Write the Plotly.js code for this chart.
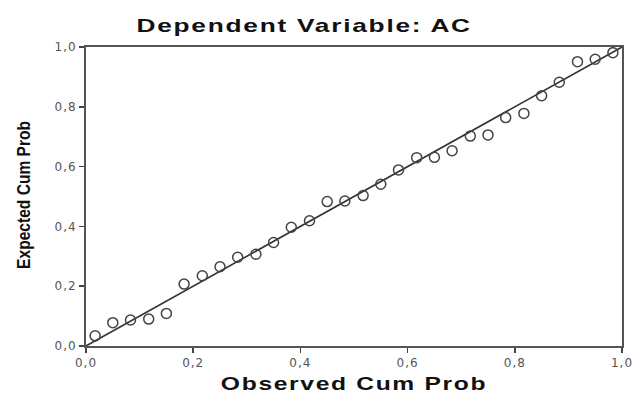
<!DOCTYPE html>
<html>
<head>
<meta charset="utf-8">
<script src="https://cdn.plot.ly/plotly-3.0.1.min.js"></script>
<style>
html,body{margin:0;padding:0;background:#fff;}
#chart{width:635px;height:394px;}
#chart .gtitle, #chart .xtitle, #chart .ytitle{transform-box:fill-box;transform-origin:center;}
#chart .gtitle{transform:scaleX(1.46);letter-spacing:1.2px;}
#chart .xtitle{transform:scaleX(1.37);letter-spacing:1.2px;}
#chart .ytitle{transform:translate(-6px,5px) rotate(-90deg) scaleX(0.82);}
#chart .xtick text, #chart .ytick text{letter-spacing:1px;}
</style>
</head>
<body>
<div id="chart"></div>
<script>
var observedCumProb = [0.017, 0.050, 0.083, 0.117, 0.150, 0.183, 0.217, 0.250, 0.283, 0.317,
                       0.350, 0.383, 0.417, 0.450, 0.483, 0.517, 0.550, 0.583, 0.617, 0.650,
                       0.683, 0.717, 0.750, 0.783, 0.817, 0.850, 0.883, 0.917, 0.950, 0.983];
var expectedCumProb = [0.034, 0.078, 0.087, 0.090, 0.109, 0.207, 0.235, 0.265, 0.297, 0.307,
                       0.346, 0.397, 0.419, 0.483, 0.485, 0.503, 0.541, 0.589, 0.630, 0.631,
                       0.653, 0.702, 0.706, 0.764, 0.778, 0.837, 0.882, 0.951, 0.959, 0.981];
var refLineX = [0, 1];
var refLineY = [0, 1];
var tickVals = [0, 0.2, 0.4, 0.6, 0.8, 1.0];
var tickText = ['0,0', '0,2', '0,4', '0,6', '0,8', '1,0'];

var axisCommon = {
  range: [0, 1],
  tickvals: tickVals,
  ticktext: tickText,
  ticks: 'outside',
  ticklen: 5,
  tickwidth: 1.5,
  tickcolor: '#444',
  showline: true,
  linecolor: '#555',
  linewidth: 2,
  mirror: true,
  showgrid: false,
  zeroline: false,
  tickfont: {family: 'DejaVu Sans, Arial, sans-serif', size: 12, color: '#555'}
};

var data = [
  {x: refLineX, y: refLineY, type: 'scatter', mode: 'lines',
   line: {color: '#333', width: 1.6}, hoverinfo: 'skip', showlegend: false},
  {x: observedCumProb, y: expectedCumProb, type: 'scatter', mode: 'markers',
   marker: {symbol: 'circle-open', size: 10, color: '#444', line: {width: 1.5, color: '#444'}},
   showlegend: false}
];

var layout = {
  width: 635, height: 394,
  margin: {l: 86, r: 13, t: 47, b: 48},
  paper_bgcolor: '#fff', plot_bgcolor: '#fff',
  separators: ',.',
  title: {text: 'Dependent Variable: AC', x: 0.479, xanchor: 'center', y: 0.935, yanchor: 'middle',
          font: {family: 'Liberation Sans, Arial, sans-serif', size: 18, color: '#111', weight: 'bold'}},
  xaxis: Object.assign({}, axisCommon, {
    title: {text: 'Observed Cum Prob', standoff: 8,
            font: {family: 'Liberation Sans, Arial, sans-serif', size: 18, color: '#111', weight: 'bold'}}
  }),
  yaxis: Object.assign({}, axisCommon, {
    title: {text: 'Expected Cum Prob', standoff: 22,
            font: {family: 'Liberation Sans, Arial, sans-serif', size: 19, color: '#111', weight: 'bold'}}
  })
};

Plotly.newPlot('chart', data, layout, {displayModeBar: false, staticPlot: true});
</script>
</body>
</html>
